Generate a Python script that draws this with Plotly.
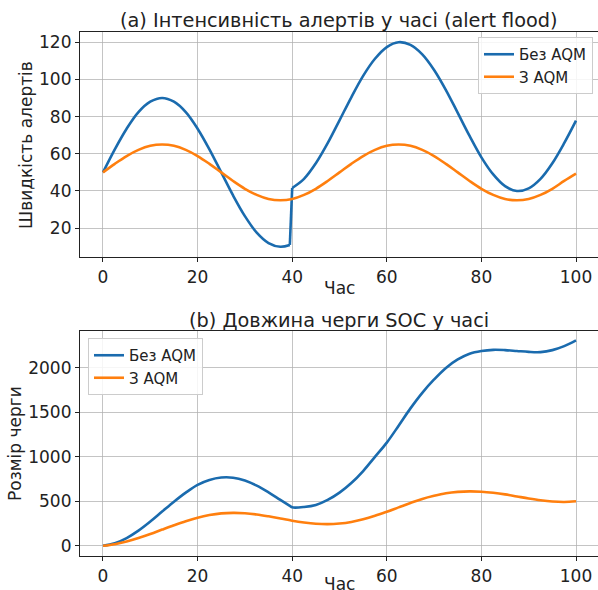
import plotly.graph_objects as go

# ---------------- data ----------------
hours = [0, 2.5, 5, 7.5, 10, 12.5, 15, 17.5, 20, 22.5, 25, 27.5, 30, 32.5, 35, 37.5,
         40, 42.5, 45, 47.5, 50, 52.5, 55, 57.5, 60, 62.5, 65, 67.5, 70, 72.5, 75, 77.5,
         80, 82.5, 85, 87.5, 90, 92.5, 95, 97.5, 100]

# (a) alert rate, without AQM (before / after the surge at hour 40)
hours_rate_a = [0, 2.5, 5, 7.5, 10, 12.5, 15, 17.5, 20, 22.5, 25, 27.5, 30, 32.5, 35, 37.5, 39.5]
rate_no_aqm_a = [50, 62.4, 73.5, 82.4, 88.0, 90, 88.0, 82.4, 73.5, 62.4, 50, 37.6, 26.5,
                 17.6, 12.0, 10.0, 11.0]
hours_rate_b = [40, 42.5, 45, 47.5, 50, 52.5, 55, 57.5, 60, 62.5, 65, 67.5, 70, 72.5, 75,
                77.5, 80, 82.5, 85, 87.5, 90, 92.5, 95, 97.5, 100]
rate_no_aqm_b = [41.6, 46.5, 54.9, 65.7, 78.0, 90.4, 101.9, 111.1, 117.4, 120.0, 118.6,
                 113.5, 105.1, 94.3, 82.0, 69.6, 58.1, 48.9, 42.6, 40.0, 41.4, 46.5, 54.9,
                 65.7, 77.8]
# (a) alert rate, with AQM
rate_aqm = [50, 54.6, 58.8, 62.1, 64.3, 65, 64.3, 62.1, 58.8, 54.6, 50, 45.4, 41.2, 37.9,
            35.7, 35, 35.7, 37.9, 41.2, 45.4, 50, 54.6, 58.8, 62.1, 64.3, 65, 64.3, 62.1,
            58.8, 54.6, 50, 45.4, 41.2, 37.9, 35.7, 35, 35.7, 37.9, 41.2, 45.4, 49.3]

# (b) SOC queue length
hours_queue = [0, 2.5, 5, 7.5, 10, 12.5, 15, 17.5, 20, 22.5, 25, 27.5, 30, 32.5, 35, 37.5,
               39.5, 40, 42.5, 45, 47.5, 50, 52.5, 55, 57.5, 60, 62.5, 65, 67.5, 70, 72.5,
               75, 77.5, 80, 82.5, 85, 87.5, 90, 92.5, 95, 97.5, 100]
queue_no_aqm = [0, 28, 87, 170, 272, 384, 495, 597, 685, 740, 767, 765, 733, 676, 600, 515,
                448, 432, 436, 458, 515, 597, 705, 840, 1000, 1160, 1350, 1545, 1720, 1870,
                2000, 2095, 2160, 2190, 2203, 2200, 2190, 2180, 2178, 2200, 2245, 2310]
queue_aqm = [0, 18, 48, 87, 132, 182, 231, 277, 316, 345, 364, 370, 366, 352, 331, 307,
             282, 262, 248, 243, 250, 268, 298, 337, 383, 432, 481, 527, 562, 590, 606,
             612, 608, 596, 578, 555, 532, 512, 498, 493, 500]

x_ticks = [0, 20, 40, 60, 80, 100]
rate_ticks = [20, 40, 60, 80, 100, 120]
queue_ticks = [0, 500, 1000, 1500, 2000]

label_no = "Без AQM"
label_aqm = "З AQM"

# ---------------- styling ----------------
BLUE = "#1a6bae"
ORANGE = "#ff7f0e"
FONT = "DejaVu Sans"
TXT = "#222222"
W, H = 598, 590
LW = 2.6

fig = go.Figure()

# top panel
fig.add_trace(go.Scatter(x=hours_rate_a, y=rate_no_aqm_a, mode="lines", name=label_no,
                         line=dict(color=BLUE, width=LW, shape="spline"),
                         legendgroup="a_no", xaxis="x", yaxis="y", legend="legend"))
fig.add_trace(go.Scatter(x=[hours_rate_a[-1], hours_rate_b[0]],
                         y=[rate_no_aqm_a[-1], rate_no_aqm_b[0]], mode="lines",
                         line=dict(color=BLUE, width=LW), showlegend=False,
                         legendgroup="a_no", xaxis="x", yaxis="y", legend="legend"))
fig.add_trace(go.Scatter(x=hours_rate_b, y=rate_no_aqm_b, mode="lines",
                         line=dict(color=BLUE, width=LW, shape="spline"), showlegend=False,
                         legendgroup="a_no", xaxis="x", yaxis="y", legend="legend"))
fig.add_trace(go.Scatter(x=hours, y=rate_aqm, mode="lines", name=label_aqm,
                         line=dict(color=ORANGE, width=LW, shape="spline"),
                         xaxis="x", yaxis="y", legend="legend"))

# bottom panel
fig.add_trace(go.Scatter(x=hours_queue, y=queue_no_aqm, mode="lines", name=label_no,
                         line=dict(color=BLUE, width=LW, shape="spline"),
                         xaxis="x2", yaxis="y2", legend="legend2"))
fig.add_trace(go.Scatter(x=hours, y=queue_aqm, mode="lines", name=label_aqm,
                         line=dict(color=ORANGE, width=LW, shape="spline"),
                         xaxis="x2", yaxis="y2", legend="legend2"))

def py(pix):
    return 1 - pix / H

axis_common = dict(showline=True, linecolor=TXT, linewidth=1.2,
                   ticks="outside", ticklen=4, tickcolor=TXT, tickwidth=1,
                   tickfont=dict(family=FONT, size=17, color=TXT),
                   showgrid=True, gridcolor="rgba(176,176,176,0.75)", gridwidth=1,
                   zeroline=False)

xdom = [80 / W, 1.0]
xr = [-4.86, 104.65]

legend_common = dict(bgcolor="rgba(255,255,255,0.85)", bordercolor="#cccccc", borderwidth=1,
                     font=dict(family=FONT, size=15, color=TXT), tracegroupgap=0)

fig.update_layout(
    width=W, height=H, autosize=False,
    margin=dict(l=0, r=0, t=0, b=0),
    paper_bgcolor="white", plot_bgcolor="white",
    font=dict(family=FONT, color=TXT),
    xaxis=dict(domain=xdom, range=xr, tickvals=x_ticks, anchor="y", mirror=True, **axis_common),
    yaxis=dict(domain=[py(257), py(32)], range=[4.5, 125.5], tickvals=rate_ticks,
               anchor="x", **axis_common),
    xaxis2=dict(domain=xdom, range=xr, tickvals=x_ticks, anchor="y2", mirror=True, **axis_common),
    yaxis2=dict(domain=[py(556), py(331)], range=[-115, 2415], tickvals=queue_ticks,
                anchor="x2", **axis_common),
    legend=dict(x=593 / W, xanchor="right", y=py(37), yanchor="top", **legend_common),
    legend2=dict(x=88 / W, xanchor="left", y=py(338), yanchor="top", **legend_common),
    showlegend=True,
)

ann_font = dict(family=FONT, size=17, color=TXT)
title_font = dict(family=FONT, size=19.3, color=TXT)

def ann(text, x, y, font, angle=0):
    fig.add_annotation(text=text, x=x / W, y=py(y), xref="paper", yref="paper",
                       xanchor="center", yanchor="middle", showarrow=False,
                       textangle=angle, font=font)

ann("(a) Інтенсивність алертів у часі (alert flood)", 339, 20, title_font)
ann("Час", 339, 288, ann_font)
ann("Швидкість алертів", 26, 145, ann_font, -90)
ann("(b) Довжина черги SOC у часі", 339, 320, title_font)
ann("Розмір черги", 15, 444, ann_font, -90)
ann("Час", 339, 584, ann_font)

fig.write_html("out.html", config={"displayModeBar": False},
               post_script="document.body.style.margin='0px';document.body.style.padding='0px';")
